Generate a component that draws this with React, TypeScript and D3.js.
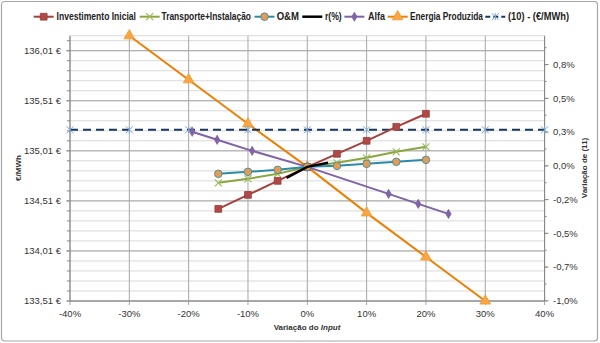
import React from "react";
import * as d3 from "d3";

const xTicks = [-40, -30, -20, -10, 0, 10, 20, 30, 40];
const xTickLabels = ["-40%", "-30%", "-20%", "-10%", "0%", "10%", "20%", "30%", "40%"];
const leftTicks = [133.51, 134.01, 134.51, 135.01, 135.51, 136.01];
const leftTickLabels = ["133,51 €", "134,01 €", "134,51 €", "135,01 €", "135,51 €", "136,01 €"];
const rightTicks = [-1.0, -0.75, -0.5, -0.25, 0, 0.25, 0.5, 0.75];
const rightTickLabels = ["-1,0%", "-0,7%", "-0,5%", "-0,2%", "0,0%", "0,3%", "0,5%", "0,8%"];

const investX = [-15, -10, -5, 0, 5, 10, 15, 20];
const investY = [134.43, 134.57, 134.71, 134.85, 134.98, 135.11, 135.25, 135.38];
const transpX = [-15, -10, -5, 0, 5, 10, 15, 20];
const transpY = [134.69, 134.73, 134.78, 134.85, 134.89, 134.94, 135.0, 135.05];
const omX = [-15, -10, -5, 0, 5, 10, 15, 20];
const omY = [134.78, 134.8, 134.82, 134.85, 134.86, 134.88, 134.9, 134.92];
const rX = [-3.5, 0, 3.5];
const rY = [134.74, 134.85, 134.89];
const alfaX = [-19.4, -15.2, -9.3, 0, 13.7, 18.7, 23.8];
const alfaY = [135.2, 135.12, 135.01, 134.85, 134.58, 134.48, 134.38];
const energiaX = [-30, -20, -10, 0, 10, 20, 30];
const energiaY = [136.16, 135.72, 135.28, 134.85, 134.39, 133.95, 133.51];
const refX = [-40, -30, -20, -10, 0, 10, 20, 30, 40];
const refY = [135.22, 135.22, 135.22, 135.22, 135.22, 135.22, 135.22, 135.22, 135.22];

const BASE = 134.86;
const Y_MIN = 133.51;
const Y_MAX = 136.16;

const L = 70, R = 544.6, T = 35.7, B = 301;

const x = d3.scaleLinear().domain([-40, 40]).range([L, R]);
const y = d3.scaleLinear().domain([Y_MIN, Y_MAX]).range([B, T]);
const yR = d3.scaleLinear().domain([(Y_MIN / BASE - 1) * 100, (Y_MAX / BASE - 1) * 100]).range([B, T]);

type Series = {
  name: string;
  xs: number[];
  ys: number[];
  color: string;
  width: number;
  dash?: string;
  marker: string;
  mFill: string;
  mStroke: string;
  mSize: number;
  legendX: number;
  textX: number;
  textW: number;
};

const series: Series[] = [
  { name: "Energia Produzida", xs: energiaX, ys: energiaY, color: "#ee7f00", width: 2, marker: "triangle", mFill: "#f8a544", mStroke: "#f39b33", mSize: 50, legendX: 387.7, textX: 410, textW: 73 },
  { name: "(10) - (€/MWh)", xs: refX, ys: refY, color: "#17375e", width: 2, dash: "8,5", marker: "star", mFill: "none", mStroke: "#7fa6cf", mSize: 3.5, legendX: 485.3, textX: 508, textW: 61 },
  { name: "Alfa", xs: alfaX, ys: alfaY, color: "#7f63a6", width: 2, marker: "diamond", mFill: "#7f63a6", mStroke: "#7f63a6", mSize: 24, legendX: 344.4, textX: 368, textW: 17 },
  { name: "Transporte+Instalação", xs: transpX, ys: transpY, color: "#8aa63e", width: 2, marker: "x", mFill: "none", mStroke: "#9cbb5a", mSize: 3.5, legendX: 139.7, textX: 161.5, textW: 89.5 },
  { name: "Investimento Inicial", xs: investX, ys: investY, color: "#a6403d", width: 2, marker: "square", mFill: "#ad4a47", mStroke: "#9a3c39", mSize: 46, legendX: 33.7, textX: 56.6, textW: 79.4 },
  { name: "O&M", xs: omX, ys: omY, color: "#2a8ca6", width: 2, marker: "circle", mFill: "#e79a52", mStroke: "#2a8ca6", mSize: 46, legendX: 254.5, textX: 276.7, textW: 22.3 },
  { name: "r(%)", xs: rX, ys: rY, color: "#000000", width: 2.5, marker: "none", mFill: "none", mStroke: "none", mSize: 0, legendX: 302.3, textX: 325, textW: 16.7 },
];

const legendOrder = ["Investimento Inicial", "Transporte+Instalação", "O&M", "r(%)", "Alfa", "Energia Produzida", "(10) - (€/MWh)"];

function Marker({ s, cx, cy }: { s: Series; cx: number; cy: number }) {
  if (s.marker === "none") return null;
  if (s.marker === "x") {
    const h = s.mSize;
    return (
      <g stroke={s.mStroke} strokeWidth={1.2}>
        <line x1={cx - h} y1={cy - h} x2={cx + h} y2={cy + h} />
        <line x1={cx - h} y1={cy + h} x2={cx + h} y2={cy - h} />
      </g>
    );
  }
  if (s.marker === "star") {
    const h = s.mSize;
    return (
      <g stroke={s.mStroke} strokeWidth={1}>
        <line x1={cx - h} y1={cy - h} x2={cx + h} y2={cy + h} />
        <line x1={cx - h} y1={cy + h} x2={cx + h} y2={cy - h} />
        <line x1={cx} y1={cy - h} x2={cx} y2={cy + h} />
      </g>
    );
  }
  const typeMap: Record<string, d3.SymbolType> = {
    triangle: d3.symbolTriangle,
    diamond: d3.symbolDiamond,
    square: d3.symbolSquare,
    circle: d3.symbolCircle,
  };
  const path = d3.symbol().type(typeMap[s.marker]).size(s.mSize)() as string;
  return <path d={path} transform={`translate(${cx},${cy})`} fill={s.mFill} stroke={s.mStroke} strokeWidth={0.8} />;
}

export default function App() {
  const line = d3.line<[number, number]>().x((d) => x(d[0])).y((d) => y(d[1]));
  const minorTicks = d3.range(0, 27).map((i) => Y_MIN + i * 0.1).filter((v) => v <= Y_MAX + 1e-9);
  const rightMinor = d3.range(-1, 1.0, 0.125);
  const font = "'Liberation Sans', Arial, sans-serif";
  return (
    <svg width={600} height={343} style={{ position: "absolute", left: 0, top: 0, fontFamily: font }}>
      <rect x={0} y={0} width={600} height={343} fill="#ffffff" />
      <rect x={1.5} y={1.5} width={596} height={339.5} rx={3} fill="none" stroke="#a6a6a6" strokeWidth={1.2} />
      {minorTicks.map((v, i) => (
        <line key={"mh" + i} x1={L} x2={R} y1={y(v)} y2={y(v)} stroke="#d9d9d9" strokeWidth={1} />
      ))}
      {leftTicks.map((v, i) => (
        <line key={"h" + i} x1={L - 4} x2={R} y1={y(v)} y2={y(v)} stroke="#a6a6a6" strokeWidth={1} />
      ))}
      {xTicks.map((v, i) => (
        <line key={"v" + i} x1={x(v)} x2={x(v)} y1={T} y2={B + 4} stroke="#a6a6a6" strokeWidth={1} />
      ))}
      <line x1={L} x2={L} y1={T} y2={B} stroke="#868686" strokeWidth={1} />
      <line x1={R} x2={R} y1={T} y2={B} stroke="#868686" strokeWidth={1} />
      <line x1={L} x2={R} y1={B} y2={B} stroke="#868686" strokeWidth={1} />
      <line x1={L} x2={R} y1={T} y2={T} stroke="#d9d9d9" strokeWidth={1} />
      {minorTicks.map((v, i) => (
        <line key={"lt" + i} x1={L - 3} x2={L} y1={y(v)} y2={y(v)} stroke="#868686" strokeWidth={1} />
      ))}
      {rightTicks.map((v, i) => (
        <line key={"rt" + i} x1={R} x2={R + 4} y1={yR(v)} y2={yR(v)} stroke="#868686" strokeWidth={1} />
      ))}
      {rightMinor.map((v, i) => (
        <line key={"rm" + i} x1={R} x2={R + 2} y1={yR(v)} y2={yR(v)} stroke="#868686" strokeWidth={1} />
      ))}
      {leftTicks.map((v, i) => (
        <text key={"ltl" + i} x={61} y={y(v)} dy="0.35em" textAnchor="end" fontSize={9.5} fill="#333">
          {leftTickLabels[i]}
        </text>
      ))}
      {rightTicks.map((v, i) => (
        <text key={"rl" + i} x={553} y={yR(v)} dy="0.35em" textAnchor="start" fontSize={9.5} fill="#333">
          {rightTickLabels[i]}
        </text>
      ))}
      {xTicks.map((v, i) => (
        <text key={"xl" + i} x={x(v)} y={313.5} dy="0.35em" textAnchor="middle" fontSize={9.5} fill="#333">
          {xTickLabels[i]}
        </text>
      ))}
      <text x={307} y={327} dy="0.35em" textAnchor="middle" fontSize={8} fontWeight="bold" fill="#333">
        Variação do <tspan fontStyle="italic">Input</tspan>
      </text>
      <text transform="translate(18,168) rotate(-90)" textAnchor="middle" dy="0.35em" fontSize={8} fontWeight="bold" fill="#333">
        €/MWh
      </text>
      <text transform="translate(584,168) rotate(-90)" textAnchor="middle" dy="0.35em" fontSize={8} fontWeight="bold" fill="#333">
        Variação de (11)
      </text>
      {series.map((s) => {
        const pts = s.xs.map((v, i) => [v, s.ys[i]] as [number, number]);
        return (
          <g key={s.name}>
            <path d={line(pts) as string} fill="none" stroke={s.color} strokeWidth={s.width} strokeDasharray={s.dash} />
            {pts.map((p, i) => (
              <Marker key={i} s={s} cx={x(p[0])} cy={y(p[1])} />
            ))}
          </g>
        );
      })}
      {legendOrder.map((n) => {
        const s = series.find((q) => q.name === n)!;
        const ly = 16.7;
        return (
          <g key={"lg" + n}>
            <line x1={s.legendX} x2={s.legendX + 20} y1={ly} y2={ly} stroke={s.color} strokeWidth={s.width} strokeDasharray={s.dash ? "5,3" : undefined} />
            <Marker s={s} cx={s.legendX + 10} cy={ly} />
            <text x={s.textX} y={ly} dy="0.35em" fontSize={10} fontWeight="bold" fill="#222" textLength={s.textW} lengthAdjust="spacingAndGlyphs">
              {s.name}
            </text>
          </g>
        );
      })}
    </svg>
  );
}
